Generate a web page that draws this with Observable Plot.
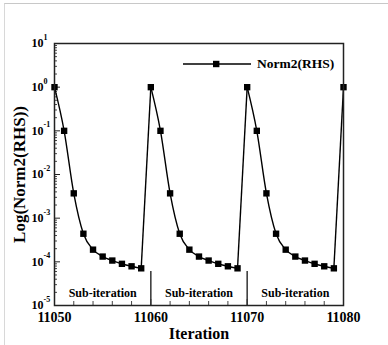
<!DOCTYPE html>
<html>
<head>
<meta charset="utf-8">
<script src="https://cdn.jsdelivr.net/npm/d3@7"></script>
<script src="https://cdn.jsdelivr.net/npm/@observablehq/plot@0.6"></script>
<style>
  html, body { margin: 0; padding: 0; background: #fff; }
  #wrap { position: relative; width: 388px; height: 345px; overflow: hidden; font-family: "Liberation Serif", "Times New Roman", serif; }
  #border { position: absolute; left: 4px; top: 3px; right: -2px; bottom: -2px; border-top: 1px solid #c8c8c8; border-left: 1px solid #d8d8d8; pointer-events: none; }
  #legend { position: absolute; left: 183px; top: 55px; height: 18px; display: flex; align-items: center; font-weight: bold; font-size: 13.5px; color: #000; white-space: nowrap; }
  #legend svg { display: block; margin-right: 6px; flex: none; }
</style>
</head>
<body>
<div id="wrap">
  <div id="border"></div>
  <div id="chart"></div>
  <div id="legend"><svg width="68" height="10"><line x1="0" y1="5" x2="68" y2="5" stroke="#000" stroke-width="1.5"/><rect x="30" y="1.8" width="6.4" height="6.4" fill="#000"/></svg><span></span></div>
</div>
<script>
// ---- data ----
const iterations = [11050, 11051, 11052, 11053, 11054, 11055, 11056, 11057, 11058, 11059,
                    11060, 11061, 11062, 11063, 11064, 11065, 11066, 11067, 11068, 11069,
                    11070, 11071, 11072, 11073, 11074, 11075, 11076, 11077, 11078, 11079,
                    11080];
const norm2 = [1, 0.1, 3.7e-3, 4.4e-4, 1.9e-4, 1.32e-4, 1.07e-4, 9.0e-5, 7.9e-5, 7.1e-5,
               1, 0.1, 3.7e-3, 4.4e-4, 1.9e-4, 1.32e-4, 1.07e-4, 9.0e-5, 7.9e-5, 7.1e-5,
               1, 0.1, 3.7e-3, 4.4e-4, 1.9e-4, 1.32e-4, 1.07e-4, 9.0e-5, 7.9e-5, 7.1e-5,
               1];
const seriesName = "Norm2(RHS)";
const xMajorTicks = [11050, 11060, 11070, 11080];
const xMinorTicks = [11052, 11054, 11056, 11058, 11062, 11064, 11066, 11068, 11072, 11074, 11076, 11078];
const yMajorTicks = [1e-5, 1e-4, 1e-3, 1e-2, 1e-1, 1, 10];
const yExponents = ["-5", "-4", "-3", "-2", "-1", "0", "1"];
const yMinorMantissas = [2, 3, 4, 5, 6, 7, 8, 9];
const subIterationCenters = [11055, 11065, 11075];
const subIterationLabel = "Sub-iteration";
const dividers = [11060, 11070];
const dividerTop = 6e-5;
const xTitle = "Iteration";
const yTitle = "Log(Norm2(RHS))";

// ---- derived tables ----
const rows = iterations.map((it, i) => ({it, v: norm2[i], cycle: Math.floor((it - 11050) / 10)}));
const decayRows = rows.filter(d => d.it < 11080);
const jumps = [];
rows.forEach((d, i) => {
  if ((d.it - 11050) % 10 === 9 && rows[i + 1]) jumps.push({a: d, b: rows[i + 1]});
});
const yMinorTicks = [];
yMajorTicks.slice(0, -1).forEach(p => yMinorMantissas.forEach(m => yMinorTicks.push(m * p)));
const yTickRows = yMajorTicks.map((v, i) => ({v, e: yExponents[i]}));

const font = "'Liberation Serif', 'Times New Roman', serif";

const chart = Plot.plot({
  width: 388,
  height: 345,
  marginLeft: 54,
  marginRight: 45,
  marginTop: 43,
  marginBottom: 40,
  x: {domain: [11050, 11080]},
  y: {type: "log", domain: [1e-5, 10]},
  style: {fontFamily: font, fontWeight: "bold", background: "transparent", color: "#000", overflow: "visible"},
  marks: [
    // inward ticks
    Plot.axisY({ticks: yMinorTicks, tickSize: -3, tickFormat: () => "", label: null, stroke: "#444"}),
    Plot.axisY({ticks: yMajorTicks, tickSize: -6, tickFormat: () => "", label: null, stroke: "#222"}),
    Plot.axisX({ticks: xMinorTicks, tickSize: -4, tickFormat: () => "", label: null, stroke: "#444"}),
    Plot.axisX({ticks: xMajorTicks, tickSize: -6, tickFormat: () => "", label: null, stroke: "#222"}),
    // x tick labels
    Plot.axisX({ticks: xMajorTicks, tickSize: 0, tickPadding: 7, fontSize: 14, label: null, tickFormat: d => String(d)}),
    // y tick labels 10^n
    Plot.text(yTickRows, {y: "v", text: () => "10", frameAnchor: "left", textAnchor: "end", dx: -11, dy: 0, fontSize: 12}),
    Plot.text(yTickRows, {y: "v", text: "e", frameAnchor: "left", textAnchor: "start", dx: -11, dy: -6, fontSize: 8}),
    // dividers and sub-iteration labels
    Plot.ruleX(dividers, {x: d => d, y1: 1e-5, y2: dividerTop, stroke: "#333", strokeWidth: 1.5}),
    Plot.text(subIterationCenters, {x: d => d, frameAnchor: "bottom", dy: -9, text: () => subIterationLabel, fontSize: 12}),
    // series
    Plot.line(decayRows, {x: "it", y: "v", z: "cycle", curve: "monotone-x", stroke: "#000", strokeWidth: 1.4}),
    Plot.link(jumps, {x1: d => d.a.it, y1: d => d.a.v, x2: d => d.b.it, y2: d => d.b.v, stroke: "#000", strokeWidth: 1.4}),
    Plot.dot(rows, {x: "it", y: "v", symbol: "square", r: 3.6, fill: "#000", stroke: null}),
    // frame
    Plot.frame({stroke: "#222", strokeWidth: 1.5}),
    // titles
    Plot.text([yTitle], {frameAnchor: "left", textAnchor: "middle", rotate: -90, dx: -35, fontSize: 17}),
    Plot.text([xTitle], {frameAnchor: "bottom", textAnchor: "middle", dy: 33, fontSize: 16})
  ]
});
document.getElementById("chart").appendChild(chart);
document.querySelector("#legend span").textContent = seriesName;
</script>
</body>
</html>
